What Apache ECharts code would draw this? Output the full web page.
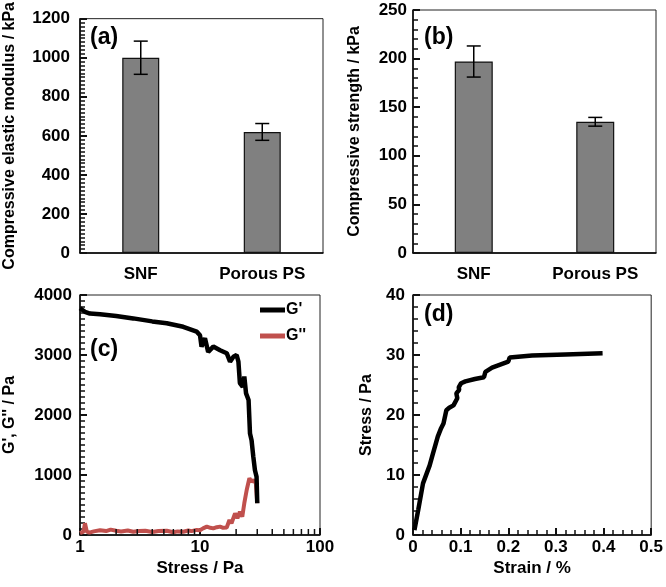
<!DOCTYPE html>
<html><head><meta charset="utf-8">
<script src="https://cdn.jsdelivr.net/npm/echarts/dist/echarts.min.js"></script>
<style>html,body{margin:0;padding:0;background:#fff}#c{width:666px;height:587px}</style>
</head><body><div id="c"></div>
<script>
// ---- data ----
const samples = ['SNF', 'Porous PS'];
const modulus = [1000, 620];
const modulusErr = [85, 43];
const strength = [197, 135];
const strengthErr = [16, 4.5];

const gPrimeStress = [1, 1.1, 1.21, 1.47, 2, 2.78, 4, 5.28, 7.25, 9.38, 10, 10.3, 11, 11.7, 12.9, 14.7, 16.7, 17.8, 19, 20.2, 20.9, 21.5, 22.7, 23.4, 24.2, 25.4, 26.1, 26.9, 27.8, 28.7, 29.6, 30];
const gPrime = [3780, 3720, 3690, 3680, 3650, 3610, 3560, 3530, 3470, 3390, 3330, 3140, 3280, 3050, 3140, 3080, 3030, 2890, 2970, 3000, 2890, 2530, 2470, 2640, 2360, 2250, 1690, 1580, 1310, 1080, 970, 530];
const gDoubleStress = [1, 1.07, 1.1, 1.14, 1.2, 1.3, 1.47, 1.65, 1.8, 2.0, 2.2, 2.5, 2.78, 3.1, 3.5, 4.0, 4.5, 5.28, 6.0, 6.5, 7.25, 8.0, 8.5, 9.38, 10.0, 10.6, 11.4, 12.2, 12.9, 13.8, 14.7, 15.6, 16.7, 17.6, 18.3, 19.6, 20.5, 21.5, 22.5, 23.4, 24.5, 25.8, 26.9, 28.1, 29.2, 30];
const gDouble = [30, 55, 195, 55, 40, 60, 80, 65, 90, 70, 60, 75, 55, 65, 70, 50, 65, 70, 45, 60, 55, 75, 65, 85, 80, 110, 140, 120, 110, 130, 140, 120, 125, 250, 195, 360, 280, 390, 305, 530, 750, 945, 890, 915, 860, 530];

const strain = [0.003, 0.011, 0.021, 0.035, 0.042, 0.052, 0.059, 0.064, 0.070, 0.076, 0.085, 0.093, 0.091, 0.097, 0.096, 0.101, 0.110, 0.130, 0.149, 0.152, 0.166, 0.200, 0.203, 0.250, 0.320, 0.398];
const stressD = [0.8, 4.2, 8.6, 11.6, 13.6, 16.4, 17.8, 18.6, 20.8, 21.2, 21.6, 22.8, 23.6, 24.2, 24.6, 25.3, 25.6, 26.0, 26.3, 27.2, 27.9, 28.9, 29.6, 29.9, 30.1, 30.3];

const logMinorTicks = [2, 3, 4, 5, 6, 7, 8, 9, 20, 30, 40, 50, 60, 70, 80, 90];

// ---- helpers ----
const FONT = '"Liberation Sans", Arial, sans-serif';
const TICK = '#111';
const lbl = (m) => ({ fontFamily: FONT, fontWeight: 'bold', fontSize: 17, color: '#000', margin: m, formatter: (v) => String(v) });
const axLine = () => ({ show: true, onZero: false, lineStyle: { color: '#000', width: 1.5 } });
function valAxis(grid, min, max, interval, minorSplit, name, nameGap, labelMargin, nameSize) {
  return {
    type: 'value', gridIndex: grid, min: min, max: max, interval: interval,
    axisLine: axLine(),
    axisTick: { show: true, inside: true, length: 7, lineStyle: { color: TICK, width: 2 } },
    minorTick: { show: true, splitNumber: minorSplit, length: 5, lineStyle: { color: TICK, width: 1.5 } },
    splitLine: { show: false },
    axisLabel: lbl(labelMargin),
    name: name, nameLocation: 'middle', nameGap: nameGap,
    nameTextStyle: { fontFamily: FONT, fontWeight: 'bold', fontSize: nameSize || 16, color: '#000' }
  };
}
function errData(vals, errs) { return vals.map((v, i) => [i, v - errs[i], v + errs[i]]); }
function errRender(params, api) {
  const lo = api.coord([api.value(0), api.value(1)]);
  const hi = api.coord([api.value(0), api.value(2)]);
  const w = 7;
  const st = { stroke: '#000', lineWidth: 1.5 };
  return { type: 'group', children: [
    { type: 'line', shape: { x1: lo[0], y1: lo[1], x2: hi[0], y2: hi[1] }, style: st },
    { type: 'line', shape: { x1: lo[0] - w, y1: lo[1], x2: lo[0] + w, y2: lo[1] }, style: st },
    { type: 'line', shape: { x1: hi[0] - w, y1: hi[1], x2: hi[0] + w, y2: hi[1] }, style: st }
  ]};
}
function tickRender(params, api) {
  const p = api.coord([api.value(0), 0]);
  return { type: 'line', shape: { x1: p[0], y1: p[1], x2: p[0], y2: p[1] - 6 }, style: { stroke: TICK, lineWidth: 1.5 } };
}

const gridStyle = () => ({ show: true, borderColor: '#222', borderWidth: 1 });
const chart = echarts.init(document.getElementById('c'));
chart.setOption({
  animation: false,
  grid: [
    Object.assign({ left: 80, top: 10, width: 243, height: 243 }, gridStyle()),
    Object.assign({ left: 413, top: 10, width: 243, height: 243 }, gridStyle()),
    Object.assign({ left: 80, top: 295, width: 240, height: 240 }, gridStyle()),
    Object.assign({ left: 413, top: 295, width: 241, height: 240 }, gridStyle())
  ],
  xAxis: [
    { type: 'category', gridIndex: 0, data: samples, axisLine: axLine(), axisTick: { show: false }, axisLabel: lbl(13) },
    { type: 'category', gridIndex: 1, data: samples, axisLine: axLine(), axisTick: { show: false }, axisLabel: lbl(13) },
    { type: 'log', gridIndex: 2, min: 1, max: 100, logBase: 10, axisLine: axLine(),
      axisTick: { show: true, inside: true, length: 7, lineStyle: { color: TICK, width: 2 } },
      splitLine: { show: false }, axisLabel: lbl(4),
      name: 'Stress / Pa', nameLocation: 'middle', nameGap: 25,
      nameTextStyle: { fontFamily: FONT, fontWeight: 'bold', fontSize: 17, color: '#000' } },
    valAxis(3, 0, 0.5, 0.1, 5, 'Strain / %', 25, 4, 17)
  ],
  yAxis: [
    valAxis(0, 0, 1200, 200, 10, 'Compressive elastic modulus / kPa', 62, 10),
    valAxis(1, 0, 250, 50, 5, 'Compressive strength / kPa', 50, 6),
    valAxis(2, 0, 4000, 1000, 10, "G', G'' / Pa", 62, 8),
    valAxis(3, 0, 40, 10, 5, 'Stress / Pa', 38, 8)
  ],
  legend: {
    show: true, orient: 'vertical', left: 255, top: 297, itemGap: 10,
    icon: 'rect', itemWidth: 25, itemHeight: 5,
    textStyle: { fontFamily: FONT, fontWeight: 'bold', fontSize: 16, color: '#000', padding: [0, 0, 0, -4] },
    data: ["G'", "G''"]
  },
  graphic: [
    { type: 'text', left: 90, top: 26, style: { text: '(a)', fontFamily: FONT, fontWeight: 'bold', fontSize: 23, fill: '#000' } },
    { type: 'text', left: 424, top: 26, style: { text: '(b)', fontFamily: FONT, fontWeight: 'bold', fontSize: 23, fill: '#000' } },
    { type: 'text', left: 90, top: 338, style: { text: '(c)', fontFamily: FONT, fontWeight: 'bold', fontSize: 23, fill: '#000' } },
    { type: 'text', left: 424, top: 303, style: { text: '(d)', fontFamily: FONT, fontWeight: 'bold', fontSize: 23, fill: '#000' } }
  ],
  series: [
    { type: 'bar', xAxisIndex: 0, yAxisIndex: 0, data: modulus, barWidth: 37,
      itemStyle: { color: '#808080', borderColor: '#111', borderWidth: 1.2 } },
    { type: 'custom', xAxisIndex: 0, yAxisIndex: 0, data: errData(modulus, modulusErr), renderItem: errRender, z: 5, silent: true },
    { type: 'bar', xAxisIndex: 1, yAxisIndex: 1, data: strength, barWidth: 38,
      itemStyle: { color: '#808080', borderColor: '#111', borderWidth: 1.2 } },
    { type: 'custom', xAxisIndex: 1, yAxisIndex: 1, data: errData(strength, strengthErr), renderItem: errRender, z: 5, silent: true },
    { name: "G'", type: 'line', xAxisIndex: 2, yAxisIndex: 2, showSymbol: false, z: 4,
      data: gPrimeStress.map((x, i) => [x, gPrime[i]]), color: '#000',
      lineStyle: { color: '#000', width: 4.5 } },
    { name: "G''", type: 'line', xAxisIndex: 2, yAxisIndex: 2, showSymbol: false, z: 3,
      data: gDoubleStress.map((x, i) => [x, gDouble[i]]), color: '#c0504d',
      lineStyle: { color: '#c0504d', width: 4 } },
    { type: 'custom', xAxisIndex: 2, yAxisIndex: 2, data: logMinorTicks.map(v => [v, 0]), renderItem: tickRender, silent: true, clip: false, z: 6 },
    { type: 'line', xAxisIndex: 3, yAxisIndex: 3, showSymbol: false,
      data: strain.map((x, i) => [x, stressD[i]]), color: '#000', lineStyle: { color: '#000', width: 4.5 } }
  ]
});
</script>
</body></html>
